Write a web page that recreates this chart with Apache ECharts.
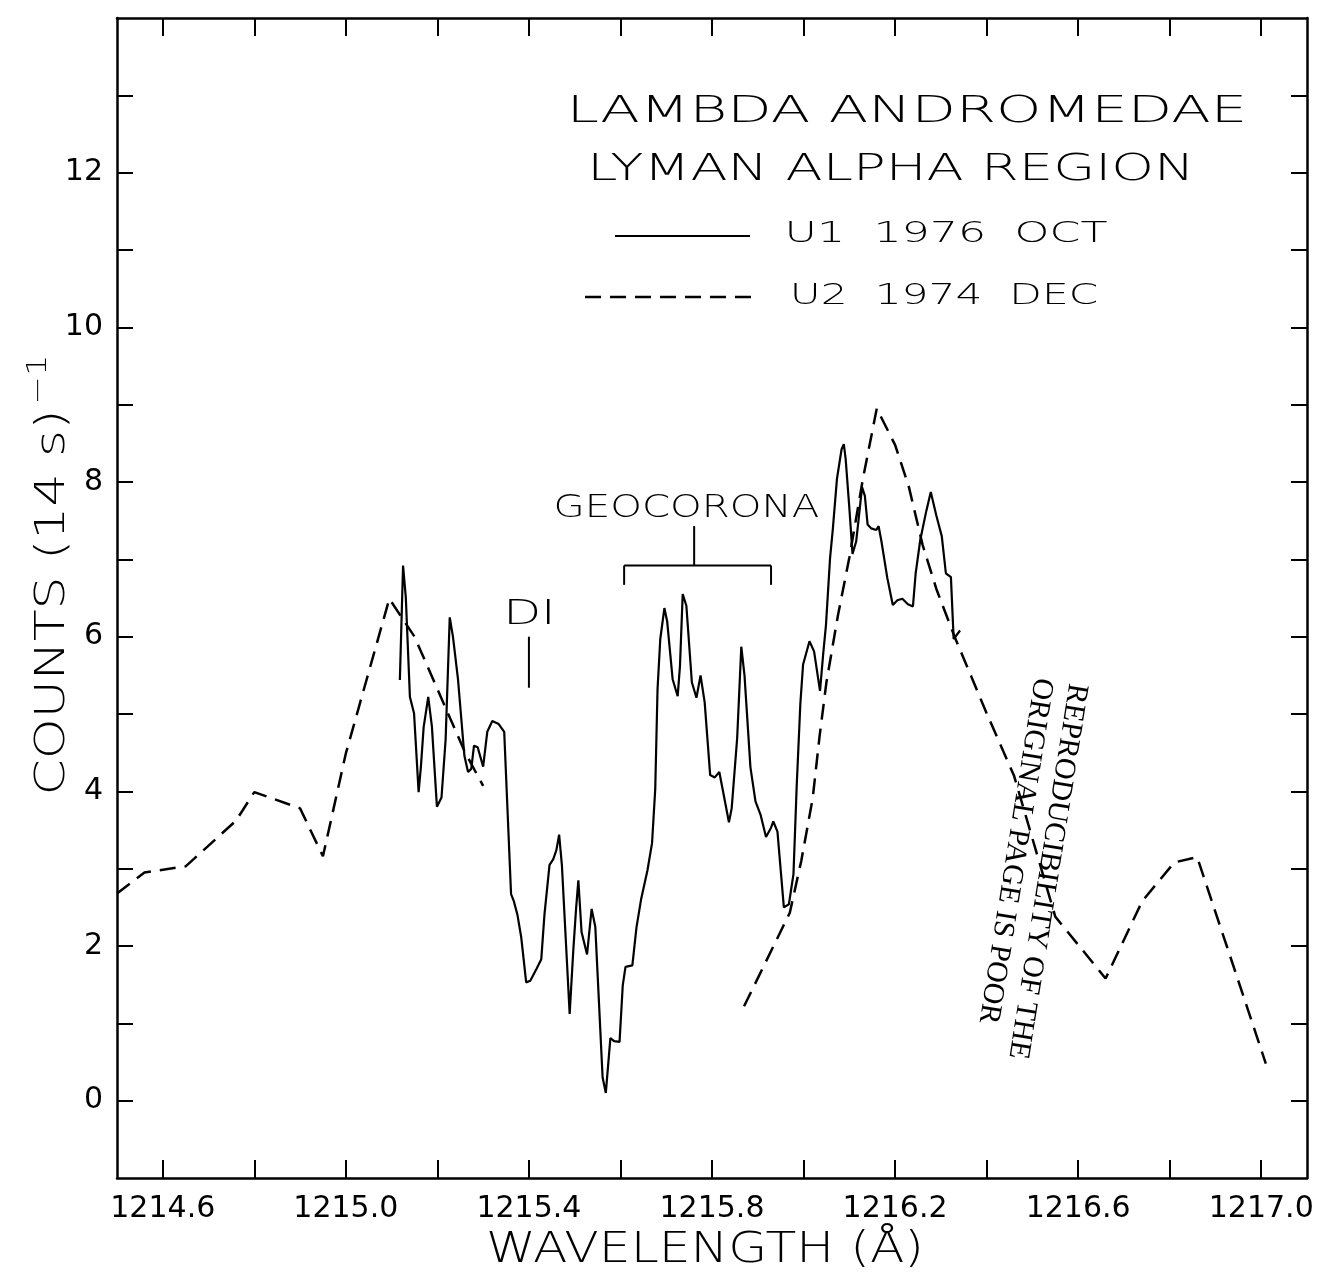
<!DOCTYPE html>
<html>
<head>
<meta charset="utf-8">
<title>Lambda Andromedae - Lyman alpha region</title>
<script src="https://cdn.jsdelivr.net/npm/echarts@6/dist/echarts.min.js"></script>
<style>
  html, body { margin: 0; padding: 0; background: #fff; }
  #chart { width: 1320px; height: 1285px; }
</style>
</head>
<body>
<div id="chart"></div>
<script>
  // U1 1976 OCT (solid trace)
  const u1Wave = [
    1215.118, 1215.125, 1215.131, 1215.140, 1215.149, 1215.159, 1215.164, 1215.170, 1215.180, 1215.188,
    1215.199, 1215.209, 1215.218, 1215.227, 1215.234, 1215.245, 1215.259, 1215.267, 1215.274, 1215.280,
    1215.288, 1215.300, 1215.309, 1215.320, 1215.334, 1215.346, 1215.361, 1215.367, 1215.375, 1215.383,
    1215.394, 1215.403, 1215.417, 1215.427, 1215.434, 1215.445, 1215.453, 1215.460, 1215.466, 1215.472,
    1215.489, 1215.497, 1215.503, 1215.508, 1215.515, 1215.527, 1215.537, 1215.545, 1215.561, 1215.568,
    1215.578, 1215.586, 1215.598, 1215.605, 1215.611, 1215.626, 1215.635, 1215.645, 1215.659, 1215.669,
    1215.676, 1215.681, 1215.687, 1215.696, 1215.702, 1215.714, 1215.725, 1215.730, 1215.736, 1215.744,
    1215.756, 1215.766, 1215.775, 1215.784, 1215.796, 1215.806, 1215.816, 1215.837, 1215.843, 1215.855,
    1215.864, 1215.871, 1215.884, 1215.895, 1215.906, 1215.918, 1215.929, 1215.934, 1215.943, 1215.957,
    1215.968, 1215.978, 1215.985, 1215.993, 1215.999, 1216.013, 1216.023, 1216.036, 1216.043, 1216.049,
    1216.058, 1216.064, 1216.073, 1216.083, 1216.088, 1216.092, 1216.100, 1216.107, 1216.115, 1216.120,
    1216.125, 1216.128, 1216.134, 1216.140, 1216.148, 1216.159, 1216.164, 1216.170, 1216.183, 1216.195,
    1216.205, 1216.216, 1216.228, 1216.239, 1216.245, 1216.255, 1216.268, 1216.278, 1216.290, 1216.302,
    1216.311, 1216.322, 1216.328, 1216.342
  ]
  const u1Counts = [
    5.44, 6.92, 6.51, 5.22, 5.01, 3.99, 4.32, 4.83, 5.22, 4.84,
    3.80, 3.92, 4.67, 6.25, 6.00, 5.45, 4.46, 4.25, 4.29, 4.59,
    4.57, 4.32, 4.77, 4.91, 4.87, 4.77, 2.67, 2.58, 2.40, 2.12,
    1.53, 1.55, 1.71, 1.83, 2.41, 3.05, 3.12, 3.24, 3.44, 3.05,
    1.12, 1.95, 2.48, 2.85, 2.18, 1.89, 2.48, 2.25, 0.30, 0.10,
    0.81, 0.77, 0.76, 1.49, 1.73, 1.75, 2.24, 2.60, 2.98, 3.33,
    4.03, 5.32, 5.97, 6.37, 6.20, 5.45, 5.23, 5.62, 6.55, 6.40,
    5.41, 5.21, 5.50, 5.15, 4.21, 4.18, 4.25, 3.60, 3.78, 4.69,
    5.87, 5.50, 4.31, 3.87, 3.70, 3.41, 3.53, 3.61, 3.48, 2.50,
    2.54, 2.93, 4.06, 5.13, 5.64, 5.94, 5.81, 5.30, 5.78, 6.15,
    7.02, 7.39, 8.04, 8.42, 8.49, 8.30, 7.67, 7.07, 7.23, 7.50,
    7.78, 7.93, 7.82, 7.45, 7.40, 7.38, 7.43, 7.24, 6.76, 6.41,
    6.47, 6.49, 6.42, 6.39, 6.82, 7.25, 7.62, 7.87, 7.57, 7.30,
    6.82, 6.77, 5.97, 6.08
  ]

  // U2 1974 DEC (dashed trace), two separate pieces
  const u2WaveA = [1214.50, 1214.56, 1214.65, 1214.76, 1214.80, 1214.90, 1214.95, 1215.00, 1215.095, 1215.15, 1215.26, 1215.30]
  const u2CountsA = [2.68, 2.95, 3.03, 3.62, 3.99, 3.78, 3.16, 4.49, 6.49, 6.00, 4.51, 4.07]
  const u2WaveB = [1215.87, 1215.97, 1215.995, 1216.02, 1216.035, 1216.05, 1216.075, 1216.10, 1216.13, 1216.16, 1216.20, 1216.23,
    1216.26, 1216.29, 1216.33, 1216.40, 1216.46, 1216.55, 1216.66, 1216.74, 1216.81, 1216.86, 1217.01]
  const u2CountsB = [1.22, 2.43, 3.10, 3.91, 4.71, 5.41, 6.27, 7.02, 8.05, 8.95, 8.48, 7.94,
    7.19, 6.62, 6.00, 5.01, 4.20, 2.38, 1.58, 2.58, 3.08, 3.15, 0.48]

  // axes
  const xTicks = [1214.6, 1214.8, 1215.0, 1215.2, 1215.4, 1215.6, 1215.8, 1216.0, 1216.2, 1216.4, 1216.6, 1216.8, 1217.0]
  const xLabels = [1214.6, 1215.0, 1215.4, 1215.8, 1216.2, 1216.6, 1217.0]
  const yTicks = [0, 1, 2, 3, 4, 5, 6, 7, 8, 9, 10, 11, 12, 13]
  const yLabels = [0, 2, 4, 6, 8, 10, 12]

  const INK = '#000'
  const LETTER = '"DejaVu Sans", sans-serif'

  const u1Data = u1Wave.map((w, i) => [w, u1Counts[i]])
  const u2Data = u2WaveA.map((w, i) => [w, u2CountsA[i]])
    .concat([['-', '-']])
    .concat(u2WaveB.map((w, i) => [w, u2CountsB[i]]))

  const chart = echarts.init(document.getElementById('chart'), null, { renderer: 'canvas' })

  const frameAxis = {
    axisLine: { show: true, onZero: false, lineStyle: { color: INK, width: 2.5 } },
    splitLine: { show: false }
  }

  chart.setOption({
    animation: false,
    backgroundColor: '#fff',
    grid: { left: 117, right: 13, top: 18, bottom: 107 },
    xAxis: [
      {
        ...frameAxis,
        type: 'value',
        min: 1214.5,
        max: 1217.1,
        position: 'bottom',
        axisTick: { show: true, inside: true, length: 18, customValues: xTicks, lineStyle: { color: INK, width: 2 } },
        axisLabel: {
          customValues: xLabels,
          margin: 16,
          color: INK,
          fontFamily: LETTER,
          fontSize: 30,
          formatter: v => v.toFixed(1)
        }
      },
      {
        ...frameAxis,
        type: 'value',
        min: 1214.5,
        max: 1217.1,
        position: 'top',
        axisTick: { show: true, inside: true, length: 18, customValues: xTicks, lineStyle: { color: INK, width: 2 } },
        axisLabel: { show: false }
      }
    ],
    yAxis: [
      {
        ...frameAxis,
        type: 'value',
        min: -1,
        max: 14,
        position: 'left',
        axisTick: { show: true, inside: true, length: 16, customValues: yTicks, lineStyle: { color: INK, width: 2 } },
        axisLabel: {
          customValues: yLabels,
          margin: 14,
          color: INK,
          fontFamily: LETTER,
          fontSize: 30
        }
      },
      {
        ...frameAxis,
        type: 'value',
        min: -1,
        max: 14,
        position: 'right',
        axisTick: { show: true, inside: true, length: 16, customValues: yTicks, lineStyle: { color: INK, width: 2 } },
        axisLabel: { show: false }
      }
    ],
    series: [
      {
        name: 'U1 1976 OCT',
        type: 'line',
        data: u1Data,
        symbol: 'none',
        smooth: false,
        lineStyle: { color: INK, width: 2.2 },
        z: 3
      },
      {
        name: 'U2 1974 DEC',
        type: 'line',
        data: u2Data,
        symbol: 'none',
        smooth: false,
        connectNulls: false,
        lineStyle: { color: INK, width: 2.5, type: [16, 9] },
        z: 2
      }
    ]
  })

  // annotation anchors, in data coordinates
  const geoLabel = [1215.744, 7.66]
  const geoBracket = { left: 1215.608, right: 1215.929, stem: 1215.761, top: 6.92, foot: 6.67, stemTop: 7.43 }
  const diLabel = [1215.401, 6.28]
  const diMark = { x: 1215.400, top: 6.0, bottom: 5.34 }

  const px = (x, y) => chart.convertToPixel({ xAxisIndex: 0, yAxisIndex: 0 }, [x, y])

  function txt(x, y, text, size, sx, extra) {
    return Object.assign({
      type: 'text',
      x: x,
      y: y,
      scaleX: sx,
      silent: true,
      style: {
        text: text,
        fontFamily: LETTER,
        fontSize: size,
        fontWeight: 200,
        fill: INK,
        align: 'center',
        verticalAlign: 'middle',
        textAlign: 'center',
        textVerticalAlign: 'middle'
      }
    }, extra || {})
  }

  function seg(a, b, lineDash, width) {
    return {
      type: 'line',
      silent: true,
      shape: { x1: a[0], y1: a[1], x2: b[0], y2: b[1] },
      style: { stroke: INK, lineWidth: width || 2, lineDash: lineDash || null }
    }
  }

  const g = px(geoLabel[0], geoLabel[1])
  const bl = px(geoBracket.left, geoBracket.top)
  const br = px(geoBracket.right, geoBracket.top)
  const blf = px(geoBracket.left, geoBracket.foot)
  const brf = px(geoBracket.right, geoBracket.foot)
  const st = px(geoBracket.stem, geoBracket.stemTop)
  const sb = px(geoBracket.stem, geoBracket.top)
  const d = px(diLabel[0], diLabel[1])
  const dt = px(diMark.x, diMark.top)
  const db = px(diMark.x, diMark.bottom)

  const yName = txt(50, 575, '{a|COUNTS (14 s)}{b|\u22121}', 40, 1.3, { rotation: Math.PI / 2 })
  yName.style.rich = {
    a: { fontFamily: LETTER, fontSize: 40, fontWeight: 200, fill: INK, lineHeight: 48, verticalAlign: 'bottom' },
    b: { fontFamily: LETTER, fontSize: 26, fontWeight: 200, fill: INK, lineHeight: 26, verticalAlign: 'top', padding: [0, 0, 0, 4] }
  }

  chart.setOption({
    graphic: [
      // title block
      txt(907, 112, 'LAMBDA ANDROMEDAE', 38, 1.52),
      txt(891, 170, 'LYMAN ALPHA REGION', 38, 1.43),
      // key
      seg([615, 236], [750, 236], null, 2.2),
      txt(946, 234, 'U1  1976  OCT', 29, 1.53),
      seg([585, 297], [755, 297], [16, 9], 2.5),
      txt(944, 296, 'U2  1974  DEC', 29, 1.46),
      // axis names
      txt(705, 1251, 'WAVELENGTH (\u00c5)', 42, 1.2),
      yName,
      // geocorona bracket
      txt(g[0], g[1], 'GEOCORONA', 32, 1.26),
      seg(blf, bl), seg(bl, br), seg(br, brf), seg(st, sb),
      // deuterium line
      txt(d[0], d[1], 'DI', 34, 1.45),
      seg(dt, db),
      // reproduction stamp
      {
        type: 'text',
        x: 1060,
        y: 681,
        rotation: -1.73,
        silent: true,
        style: {
          text: 'REPRODUCIBILITY OF THE\nORIGINAL PAGE IS POOR',
          fontFamily: '"Liberation Serif", serif',
          fontSize: 30,
          lineHeight: 35,
          fill: INK,
          align: 'left',
          verticalAlign: 'middle',
          textAlign: 'left',
          textVerticalAlign: 'middle'
        }
      }
    ]
  })
</script>
</body>
</html>
